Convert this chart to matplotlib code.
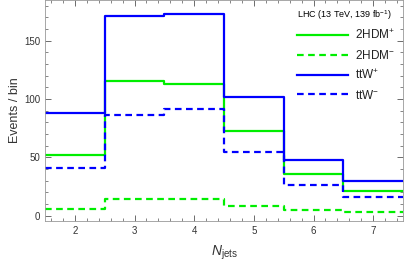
import matplotlib
matplotlib.use("Agg")
import matplotlib.pyplot as plt
import numpy as np
from matplotlib.ticker import MultipleLocator

plt.rcParams['font.family'] = ['Liberation Sans', 'DejaVu Sans']
plt.rcParams['mathtext.fontset'] = 'custom'
plt.rcParams['mathtext.rm'] = 'Liberation Sans'
plt.rcParams['mathtext.it'] = 'Liberation Sans:italic'

njets = [2, 3, 4, 5, 6, 7]
hdm_plus = [52.3, 115.7, 113.0, 72.3, 35.7, 20.8]
hdm_minus = [5.7, 14.6, 14.3, 8.6, 4.6, 2.9]
ttw_plus = [88.3, 171.0, 172.6, 101.7, 47.7, 29.4]
ttw_minus = [40.9, 86.6, 91.4, 54.6, 26.0, 16.0]

fig = plt.figure(figsize=(4.05, 2.66), dpi=100)
ax = fig.add_axes([45/405, 45/266, 358/405, 221/266])

edges = np.arange(njets[0] - 0.5, njets[-1] + 1.0, 1.0)
green = '#00ee00'
blue = '#0000ff'

def stepline(vals, **kw):
    y = list(vals) + [vals[-1]]
    ax.step(edges, y, where='post', **kw)

stepline(hdm_plus, color=green, lw=1.6, label='2HDM$^{+}$')
stepline(hdm_minus, color=green, lw=1.6, ls=(0, (3, 2)), label='2HDM$^{-}$')
stepline(ttw_plus, color=blue, lw=1.6, label='ttW$^{+}$')
stepline(ttw_minus, color=blue, lw=1.6, ls=(0, (3, 2)), label='ttW$^{-}$')

ax.set_xlim(1.5, 7.5)
ax.set_ylim(-4.5, 185)
ax.xaxis.set_major_locator(MultipleLocator(1))
ax.xaxis.set_minor_locator(MultipleLocator(0.2))
ax.yaxis.set_major_locator(MultipleLocator(50))
ax.yaxis.set_minor_locator(MultipleLocator(10))
ax.tick_params(which='both', direction='in', top=True, right=True, labelsize=7, colors='#555555', labelcolor='#333333')
ax.tick_params(which='major', length=4, width=0.6)
ax.tick_params(which='minor', length=2, width=0.5)
for s in ax.spines.values():
    s.set_color('#999999')
    s.set_linewidth(0.6)

ax.set_xlabel('$N_{\\mathrm{jets}}$', fontsize=10, color='#333333', labelpad=6)
ax.set_ylabel('Events / bin', fontsize=9, color='#333333', labelpad=2)

leg = ax.legend(loc='upper right', frameon=False, fontsize=8.5, title='LHC (13 TeV, 139 fb$^{-1}$)',
                title_fontsize=6.5, handlelength=4.3, labelspacing=0.55, borderaxespad=0.3,
                handletextpad=0.6)
leg._legend_box.align = 'left'
for t in leg.get_texts():
    t.set_color('#222222')

fig.savefig('out.png', dpi=100)
